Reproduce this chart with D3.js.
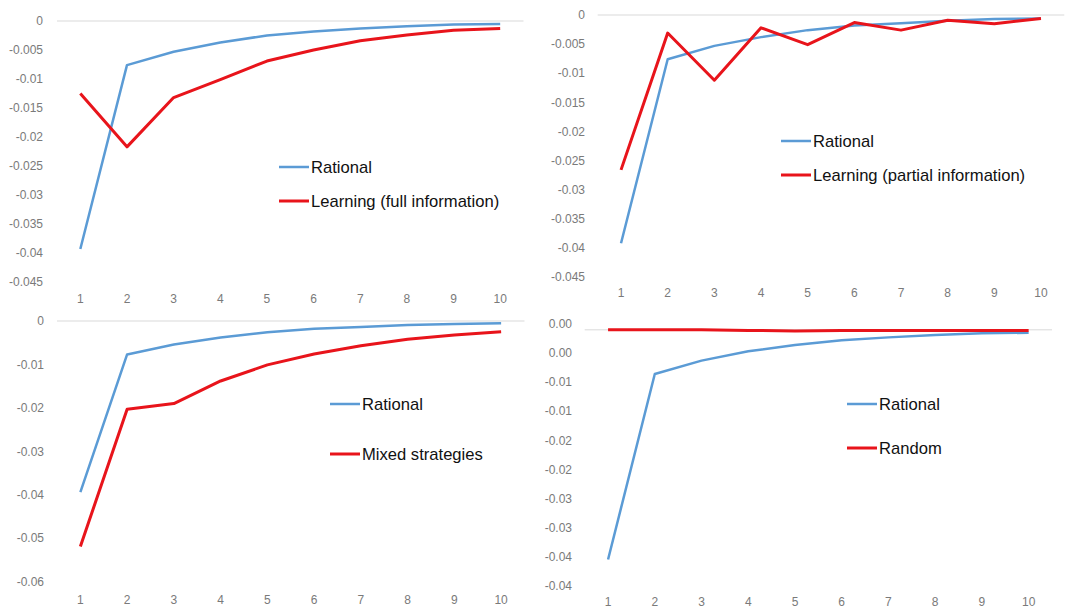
<!DOCTYPE html>
<html>
<head>
<meta charset="utf-8">
<script src="https://cdn.jsdelivr.net/npm/d3@7"></script>
<style>
  html, body { margin: 0; padding: 0; background: #fff; }
  svg { display: block; }
</style>
</head>
<body>
<svg id="chart" width="1074" height="610"></svg>
<script>
// ---------------- DATA ----------------
const periods = [1, 2, 3, 4, 5, 6, 7, 8, 9, 10];

const rational1 = [-0.0393, -0.0076, -0.0053, -0.0037, -0.0025, -0.0018, -0.0013, -0.0009, -0.0006, -0.0005];
const learningFull = [-0.0125, -0.0217, -0.0132, -0.0101, -0.0069, -0.0050, -0.0034, -0.0024, -0.0016, -0.0013];

const rational2 = [-0.0392, -0.0076, -0.0053, -0.0038, -0.0026, -0.0018, -0.0014, -0.0010, -0.0007, -0.0006];
const learningPartial = [-0.0266, -0.0031, -0.0112, -0.0022, -0.0051, -0.0013, -0.0026, -0.0009, -0.0015, -0.0006];

const rational3 = [-0.0394, -0.0077, -0.0054, -0.0038, -0.0026, -0.0018, -0.0014, -0.0009, -0.0007, -0.0005];
const mixedStrategies = [-0.0519, -0.0203, -0.0190, -0.0138, -0.0101, -0.0076, -0.0057, -0.0042, -0.0032, -0.0025];

const rational4 = [-0.0395, -0.0076, -0.0053, -0.0037, -0.0026, -0.0018, -0.0013, -0.0009, -0.0006, -0.0005];
const randomSeries = [0.0000, 0.0000, 0.0000, -0.0001, -0.0002, -0.0001, -0.0001, -0.0001, -0.0001, -0.0001];

const ticks1 = [0, -0.005, -0.01, -0.015, -0.02, -0.025, -0.03, -0.035, -0.04, -0.045];
const tickLabels1 = ["0", "-0.005", "-0.01", "-0.015", "-0.02", "-0.025", "-0.03", "-0.035", "-0.04", "-0.045"];
const ticks3 = [0, -0.01, -0.02, -0.03, -0.04, -0.05, -0.06];
const tickLabels3 = ["0", "-0.01", "-0.02", "-0.03", "-0.04", "-0.05", "-0.06"];
const ticks4 = [0.001, -0.004, -0.009, -0.014, -0.019, -0.024, -0.029, -0.034, -0.039, -0.044];
const tickLabels4 = ["0.00", "0.00", "-0.01", "-0.01", "-0.02", "-0.02", "-0.03", "-0.03", "-0.04", "-0.04"];

const seriesNames = ["Rational", "Learning (full information)", "Learning (partial information)", "Mixed strategies", "Random"];

// ---------------- STYLE / LAYOUT ----------------
const BLUE = "#5b9bd5";
const RED = "#e8141b";
const svg = d3.select("#chart");

const panels = [
  { x: [57, 523.5], y: [21, 282], ticks: ticks1, labels: tickLabels1, labelX: 43, xLabelY: 299,
    series: [{ name: seriesNames[0], values: rational1, color: BLUE }, { name: seriesNames[1], values: learningFull, color: RED }],
    legend: { x: 279, ys: [167, 201] } },
  { x: [597.7, 1064.3], y: [15, 277], ticks: ticks1, labels: tickLabels1, labelX: 585, xLabelY: 293,
    series: [{ name: seriesNames[0], values: rational2, color: BLUE }, { name: seriesNames[2], values: learningPartial, color: RED }],
    legend: { x: 781, ys: [141, 175] } },
  { x: [57, 524.5], y: [321, 581.7], ticks: ticks3, labels: tickLabels3, labelX: 44, xLabelY: 600,
    series: [{ name: seriesNames[0], values: rational3, color: BLUE }, { name: seriesNames[3], values: mixedStrategies, color: RED }],
    legend: { x: 330, ys: [404, 454] } },
  { x: [584.7, 1052], y: [324, 585.7], ticks: ticks4, labels: tickLabels4, labelX: 572, xLabelY: 602,
    series: [{ name: seriesNames[0], values: rational4, color: BLUE }, { name: seriesNames[4], values: randomSeries, color: RED }],
    legend: { x: 847, ys: [404, 448] } }
];

panels.forEach(p => {
  const g = svg.append("g");
  const x = d3.scaleBand().domain(periods).range(p.x);
  const y = d3.scaleLinear().domain([p.ticks[0], p.ticks[p.ticks.length - 1]]).range(p.y);

  // zero axis line
  g.append("line")
    .attr("x1", p.x[0]).attr("x2", p.x[1])
    .attr("y1", y(0)).attr("y2", y(0))
    .attr("stroke", "#d9d9d9").attr("stroke-width", 1);

  // y tick labels
  g.selectAll("text.ytick").data(p.ticks).join("text")
    .attr("class", "ytick")
    .attr("x", p.labelX)
    .attr("y", d => y(d))
    .attr("dy", "0.35em")
    .attr("text-anchor", "end")
    .attr("font-family", "Liberation Sans, Arial, sans-serif")
    .attr("font-size", 12)
    .attr("fill", "#7a7a7a")
    .text((d, i) => p.labels[i]);

  // x tick labels
  g.selectAll("text.xtick").data(periods).join("text")
    .attr("class", "xtick")
    .attr("x", d => x(d) + x.bandwidth() / 2)
    .attr("y", p.xLabelY)
    .attr("dy", "0.35em")
    .attr("text-anchor", "middle")
    .attr("font-family", "Liberation Sans, Arial, sans-serif")
    .attr("font-size", 12)
    .attr("fill", "#7a7a7a")
    .text(d => d);

  const line = d3.line()
    .x((d, i) => x(periods[i]) + x.bandwidth() / 2)
    .y(d => y(d));

  p.series.forEach(s => {
    g.append("path")
      .datum(s.values)
      .attr("fill", "none")
      .attr("stroke", s.color)
      .attr("stroke-width", s.color === RED ? 3 : 2.5)
      .attr("stroke-linejoin", "round")
      .attr("d", line);
  });

  // legend
  p.series.forEach((s, i) => {
    const ly = p.legend.ys[i];
    g.append("line")
      .attr("x1", p.legend.x).attr("x2", p.legend.x + 30)
      .attr("y1", ly).attr("y2", ly)
      .attr("stroke", s.color)
      .attr("stroke-width", s.color === RED ? 3 : 2.5);
    g.append("text")
      .attr("x", p.legend.x + 32)
      .attr("y", ly)
      .attr("dy", "0.35em")
      .attr("font-family", "Liberation Sans, Arial, sans-serif")
      .attr("font-size", 16.6)
      .attr("fill", "#111")
      .text(s.name);
  });
});
</script>
</body>
</html>
